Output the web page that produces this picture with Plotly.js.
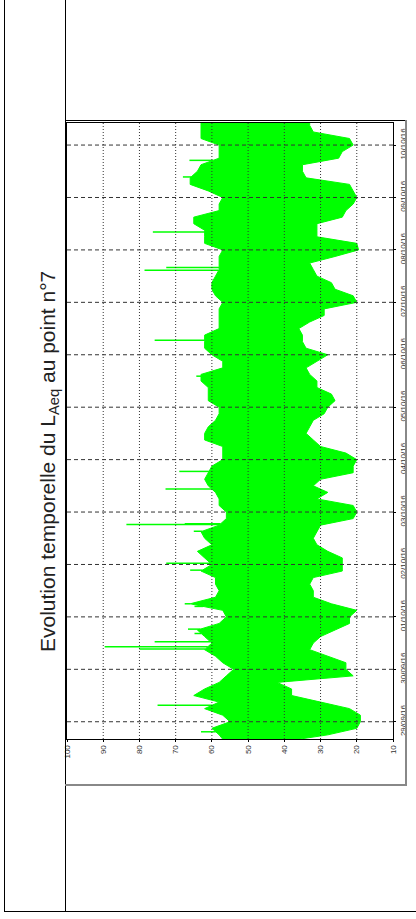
<!DOCTYPE html>
<html><head><meta charset="utf-8">
<script src="https://cdn.plot.ly/plotly-3.0.1.min.js"></script>
<style>
html,body{margin:0;padding:0;background:#fff;}
#wrap{position:relative;width:416px;height:919px;overflow:hidden;background:#fff;}
#chart{position:absolute;left:0;top:0;width:416px;height:919px;}
.ln{position:absolute;pointer-events:none;}
</style></head><body>
<div id="wrap">
<div id="chart"></div>
<div class="ln" style="left:4px;top:0;width:1px;height:912px;background:#000"></div>
<div class="ln" style="left:65px;top:0;width:1px;height:912px;background:#000"></div>
<div class="ln" style="left:4px;top:911px;width:412px;height:1px;background:#000"></div>
<div class="ln" style="left:65px;top:120px;width:341px;height:1px;background:#000"></div>
<div class="ln" style="left:405px;top:120px;width:2px;height:666px;background:#888"></div>
<div class="ln" style="left:65px;top:784px;width:342px;height:2px;background:#888"></div>
</div>
<script>
// ---- data ----
const times = [
 '2016-09-28 16:00','2016-09-28 18:00','2016-09-28 21:00',
 '2016-09-29 00:00','2016-09-29 03:00','2016-09-29 06:00','2016-09-29 09:00','2016-09-29 12:00','2016-09-29 15:00','2016-09-29 18:00','2016-09-29 21:00',
 '2016-09-30 00:00','2016-09-30 03:00','2016-09-30 06:00','2016-09-30 09:00','2016-09-30 12:00','2016-09-30 15:00','2016-09-30 18:00','2016-09-30 21:00',
 '2016-10-01 00:00','2016-10-01 03:00','2016-10-01 06:00','2016-10-01 09:00','2016-10-01 12:00','2016-10-01 15:00','2016-10-01 18:00','2016-10-01 21:00',
 '2016-10-02 00:00','2016-10-02 03:00','2016-10-02 06:00','2016-10-02 09:00','2016-10-02 12:00','2016-10-02 15:00','2016-10-02 18:00','2016-10-02 21:00',
 '2016-10-03 00:00','2016-10-03 03:00','2016-10-03 06:00','2016-10-03 09:00','2016-10-03 12:00','2016-10-03 15:00','2016-10-03 18:00','2016-10-03 21:00',
 '2016-10-04 00:00','2016-10-04 03:00','2016-10-04 06:00','2016-10-04 09:00','2016-10-04 12:00','2016-10-04 15:00','2016-10-04 18:00','2016-10-04 21:00',
 '2016-10-05 00:00','2016-10-05 03:00','2016-10-05 06:00','2016-10-05 09:00','2016-10-05 12:00','2016-10-05 15:00','2016-10-05 18:00','2016-10-05 21:00',
 '2016-10-06 00:00','2016-10-06 03:00','2016-10-06 06:00','2016-10-06 09:00','2016-10-06 12:00','2016-10-06 15:00','2016-10-06 18:00','2016-10-06 21:00',
 '2016-10-07 00:00','2016-10-07 03:00','2016-10-07 06:00','2016-10-07 09:00','2016-10-07 12:00','2016-10-07 15:00','2016-10-07 18:00','2016-10-07 21:00',
 '2016-10-08 00:00','2016-10-08 03:00','2016-10-08 06:00','2016-10-08 09:00','2016-10-08 12:00','2016-10-08 15:00','2016-10-08 18:00','2016-10-08 21:00',
 '2016-10-09 00:00','2016-10-09 03:00','2016-10-09 06:00','2016-10-09 09:00','2016-10-09 12:00','2016-10-09 15:00','2016-10-09 18:00','2016-10-09 21:00',
 '2016-10-10 00:00','2016-10-10 03:00','2016-10-10 06:00','2016-10-10 09:00','2016-10-10 10:06'
];
// upper envelope of LAeq (dB(A))
const laeqMax = [
 57,58,60,
 55,57,62,58,65,62,58,56,
 54,57,59,62,60,62,64,58,
 56,57,66,59,58,59,59,63,
 60,62,64,60,62,63,58,56,
 56,58,58,59,61,62,61,60,
 57,57,57,62,62,61,59,58,
 58,61,61,61,63,63,57,57,
 60,62,62,62,58,58,58,58,
 57,59,60,60,59,58,58,58,
 57,62,62,62,65,65,58,58,
 57,61,66,66,64,63,58,58,
 58,63,63,63,63
];
// lower envelope of LAeq (dB(A))
const laeqMin = [
 36,28,20,
 19,19,22,30,38,38,42,21,
 23,23,28,33,32,30,26,22,
 22,20,27,32,32,33,32,24,
 24,24,28,31,32,31,30,21,
 20,21,31,28,32,30,21,21,
 20,23,30,32,34,33,32,29,
 28,26,27,31,31,33,34,31,
 28,34,35,35,36,33,29,29,
 20,21,26,27,31,32,33,26,
 19.5,20,31,31,31,24,23,21,
 20,21,22,34,35,35,25,24,
 21,22,32,33,33
];
// isolated peaks
const peakTimes = [
 '2016-09-28 19:24','2016-09-29 07:36','2016-09-30 09:18','2016-09-30 10:18','2016-09-30 12:36',
 '2016-09-30 16:24','2016-09-30 18:24','2016-10-01 04:48','2016-10-01 06:00','2016-10-01 21:24','2016-10-02 00:30',
 '2016-10-02 15:12','2016-10-02 18:18','2016-10-02 18:36','2016-10-03 10:30','2016-10-03 18:36',
 '2016-10-05 14:12','2016-10-06 06:42','2016-10-07 14:42','2016-10-07 15:54','2016-10-08 08:12',
 '2016-10-09 09:24','2016-10-09 17:00'
];
const peakValues = [
 63,75,80,89.6,75.8,
 64.8,66.6,64.8,67.5,66,72.6,
 65,83.6,67.5,72.8,69,
 64.3,75.8,78.6,72.6,76.3,
 68,66.2
];
const levelTicks = [100,90,80,70,60,50,40,30,20,10];
const dayTicks = ['2016-09-29','2016-09-30','2016-10-01','2016-10-02','2016-10-03','2016-10-04',
 '2016-10-05','2016-10-06','2016-10-07','2016-10-08','2016-10-09','2016-10-10'];
const dayLabels = ['29/09/16','30/09/16','01/10/16','02/10/16','03/10/16','04/10/16',
 '05/10/16','06/10/16','07/10/16','08/10/16','09/10/16','10/10/16'];
const timeRange = ['2016-09-28 16:06','2016-10-10 10:06'];
const levelRange = [100,10];

// ---- build ----
function ms(s){ return Date.parse(s.replace(' ','T') + (s.length>10?':00Z':'T00:00:00Z')); }
const tMs = times.map(ms);
function envAt(t){
  for(let i=0;i<tMs.length-1;i++){
    if(t>=tMs[i] && t<=tMs[i+1]){
      const f=(t-tMs[i])/(tMs[i+1]-tMs[i]);
      return laeqMax[i]+f*(laeqMax[i+1]-laeqMax[i]);
    }
  }
  return laeqMax[laeqMax.length-1];
}
const px=[], py=[];
peakTimes.forEach((t,i)=>{ px.push(envAt(ms(t)), peakValues[i], null); py.push(t,t,null); });

const green='#00ff00';
const traces=[
 {x:laeqMin, y:times, mode:'lines', line:{color:green,width:1}, hoverinfo:'skip'},
 {x:laeqMax, y:times, mode:'lines', fill:'tonextx', fillcolor:green, line:{color:green,width:1}, hoverinfo:'skip'},
 {x:px, y:py, mode:'lines', line:{color:green,width:1.5}, connectgaps:false, hoverinfo:'skip'}
];

const shapes=[];
levelTicks.filter(v=>v!==levelRange[0] && v!==levelRange[1]).forEach(v=>{
  shapes.push({type:'line', layer:'above', xref:'x', yref:'paper', x0:v, x1:v, y0:0, y1:1,
    line:{color:'#333', width:1, dash:'1px,2px'}});
});
dayTicks.forEach(d=>{
  shapes.push({type:'line', layer:'above', xref:'paper', yref:'y', x0:0, x1:1, y0:d, y1:d,
    line:{color:'#333', width:1, dash:'4px,3px'}});
});

const tickFont={family:'Liberation Sans Narrow, Liberation Sans, Arial', size:8, color:'#333'};
const layout={
  width:416, height:919,
  margin:{l:67, r:23, t:123, b:180, pad:0},
  paper_bgcolor:'rgba(0,0,0,0)', plot_bgcolor:'#fff',
  showlegend:false,
  xaxis:{range:levelRange, tickmode:'array', tickvals:levelTicks, ticktext:levelTicks.map(String),
    tickangle:-90, showgrid:false, zeroline:false, showline:true, mirror:true,
    linecolor:'#000', linewidth:1, ticks:'outside', ticklen:2, tickcolor:'#000', tickfont:tickFont},
  yaxis:{type:'date', range:timeRange, side:'right', tickmode:'array', tickvals:dayTicks, ticktext:dayLabels,
    tickangle:-90, showgrid:false, zeroline:false, showline:true, mirror:true,
    linecolor:'#000', linewidth:1, ticks:'outside', ticklen:2, tickcolor:'#000', tickfont:tickFont},
  shapes:shapes,
  annotations:[{text:'Evolution temporelle du L<sub>Aeq</sub> au point n°7', xref:'paper', yref:'paper',
    x:(49-67)/326, y:(739-462)/616, xanchor:'center', yanchor:'middle', textangle:-90, showarrow:false,
    font:{family:'Liberation Sans, Arial', size:21, color:'#222'}}]
};
Plotly.newPlot('chart', traces, layout, {staticPlot:true, displayModeBar:false});
</script>
</body></html>
